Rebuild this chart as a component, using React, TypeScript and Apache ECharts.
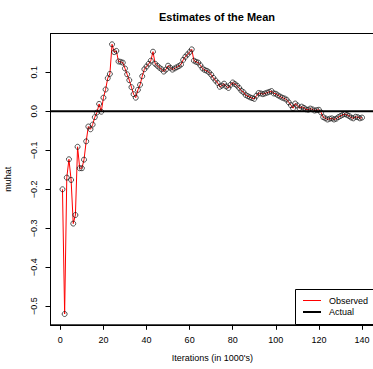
import React, { useEffect, useRef } from "react";
import * as echarts from "echarts";

const iterations: number[] = Array.from({ length: 140 }, (_, i) => i + 1);
const muhat: number[] = [
  -0.2, -0.52, -0.17, -0.123, -0.176, -0.288, -0.266, -0.091, -0.146, -0.146,
  -0.124, -0.077, -0.039, -0.046, -0.034, -0.015, -0.003, 0.019, -0.001, 0.035,
  0.056, 0.085, 0.096, 0.172, 0.152, 0.155, 0.128, 0.127, 0.125, 0.11,
  0.095, 0.08, 0.062, 0.044, 0.035, 0.055, 0.068, 0.09, 0.108, 0.115,
  0.122, 0.13, 0.153, 0.122, 0.117, 0.112, 0.108, 0.102, 0.107, 0.117,
  0.112, 0.107, 0.11, 0.113, 0.116, 0.12, 0.132, 0.14, 0.146, 0.152,
  0.159, 0.13, 0.127, 0.125, 0.118, 0.11, 0.106, 0.104, 0.1, 0.094,
  0.086, 0.079, 0.073, 0.063, 0.066, 0.071, 0.064, 0.06, 0.068, 0.074,
  0.07, 0.066, 0.06, 0.053, 0.049, 0.042, 0.039, 0.036, 0.034, 0.032,
  0.04, 0.047, 0.046, 0.044, 0.046, 0.048, 0.05, 0.052, 0.046, 0.045,
  0.041, 0.038, 0.035, 0.033, 0.03, 0.023, 0.016, 0.008, 0.02, 0.015,
  0.008, 0.012, 0.009, 0.005, 0.004, 0.007, 0.005, 0.002, 0.003, 0.004,
  -0.003, -0.015, -0.018, -0.021, -0.019, -0.018, -0.021, -0.019, -0.015, -0.012,
  -0.009, -0.007, -0.009, -0.012, -0.016, -0.018, -0.014, -0.015, -0.018, -0.016,
];
const actualMean = 0;
const xTicks = [0, 20, 40, 60, 80, 100, 120, 140];
const yTicks = [-0.5, -0.4, -0.3, -0.2, -0.1, 0.0, 0.1];

const FONT = "'Liberation Sans', Arial, Helvetica, sans-serif";

export default function App() {
  const ref = useRef<HTMLDivElement>(null);
  useEffect(() => {
    if (!ref.current) return;
    const chart = echarts.init(ref.current, undefined, { renderer: "svg" });
    const xMinD = Math.min(...iterations);
    const xMaxD = Math.max(...iterations);
    const xPad = (xMaxD - xMinD) * 0.04;
    const yMinD = Math.min(...muhat);
    const yMaxD = Math.max(...muhat);
    const yPad = (yMaxD - yMinD) * 0.04;
    const points = iterations.map((x, i) => [x, muhat[i]]);
    const fmtY = (v: number) => {
      const s = Math.abs(v).toFixed(1);
      return v < -1e-9 ? "\u2212" + s : s;
    };
    chart.setOption({
      animation: false,
      backgroundColor: "#ffffff",
      textStyle: { fontFamily: FONT },
      title: {
        text: "Estimates of the Mean",
        left: 212,
        top: 6,
        textAlign: "center",
        textStyle: { fontSize: 11, fontWeight: "bold", color: "#000", fontFamily: FONT },
      },
      grid: {
        left: 50.5,
        top: 33.5,
        width: 323.5,
        height: 291.3,
        containLabel: false,
        outerBoundsMode: "none",
        show: true,
        borderColor: "#000",
        borderWidth: 1,
        backgroundColor: "transparent",
      },
      xAxis: {
        type: "value",
        min: xMinD - xPad,
        max: xMaxD + xPad,
        name: "Iterations (in 1000's)",
        nameLocation: "middle",
        nameGap: 29,
        nameTextStyle: { fontSize: 9, color: "#000", fontFamily: FONT },
        axisLine: { show: true, onZero: false, lineStyle: { color: "#000", width: 1 } },
        axisTick: { show: true, length: 5, customValues: xTicks, lineStyle: { color: "#000" } },
        axisLabel: {
          fontSize: 9,
          color: "#000",
          margin: 11,
          fontFamily: FONT,
          customValues: xTicks,
          formatter: (v: number) => String(Math.round(v)),
        },
        splitLine: { show: false },
      },
      yAxis: {
        type: "value",
        min: yMinD - yPad,
        max: yMaxD + yPad,
        name: "muhat",
        nameLocation: "middle",
        nameGap: 38,
        nameRotate: 90,
        nameTextStyle: { fontSize: 9, color: "#000", fontFamily: FONT },
        axisLine: { show: true, onZero: false, lineStyle: { color: "#000", width: 1 } },
        axisTick: { show: true, length: 5, customValues: yTicks, lineStyle: { color: "#000" } },
        axisLabel: {
          fontSize: 9,
          color: "#000",
          rotate: 90,
          margin: 12,
          fontFamily: FONT,
          customValues: yTicks,
          formatter: fmtY,
        },
        splitLine: { show: false },
      },
      legend: [
        {
          data: [{ name: "Observed", icon: "rect" }],
          left: 303,
          top: 296,
          padding: 0,
          itemWidth: 18,
          itemHeight: 1,
          selectedMode: false,
          textStyle: { fontSize: 9, color: "#000", fontFamily: FONT, padding: [0, 0, 0, 3] },
        },
        {
          data: [{ name: "Actual", icon: "rect" }],
          left: 303,
          top: 307.5,
          padding: 0,
          itemWidth: 18,
          itemHeight: 2,
          selectedMode: false,
          textStyle: { fontSize: 9, color: "#000", fontFamily: FONT, padding: [0, 0, 0, 3] },
        },
      ],
      graphic: [
        {
          type: "rect",
          shape: { x: 295.5, y: 289.5, width: 80, height: 35 },
          style: { fill: "#fff", stroke: "#000", lineWidth: 1 },
          silent: true,
          z: 0,
        },
      ],
      series: [
        {
          name: "Observed",
          type: "line",
          data: points,
          clip: false,
          symbol: "none",
          color: "#ff0000",
          lineStyle: { color: "#ff0000", width: 1 },
          itemStyle: { color: "#ff0000" },
          z: 3,
          silent: true,
        },
        {
          name: "points",
          type: "scatter",
          data: points,
          clip: false,
          symbol: "circle",
          symbolSize: 5,
          itemStyle: { color: "rgba(0,0,0,0)", borderColor: "#111", borderWidth: 0.9 },
          z: 4,
          silent: true,
        },
        {
          name: "Actual",
          type: "line",
          data: [
            [xMinD - xPad, actualMean],
            [xMaxD + xPad, actualMean],
          ],
          clip: false,
          symbol: "none",
          color: "#000",
          lineStyle: { color: "#000", width: 2 },
          itemStyle: { color: "#000" },
          z: 5,
          silent: true,
        },
      ],
    });
    return () => chart.dispose();
  }, []);
  return (
    <div
      ref={ref}
      style={{ position: "fixed", left: 0, top: 0, width: 373, height: 369, background: "#fff" }}
    />
  );
}
